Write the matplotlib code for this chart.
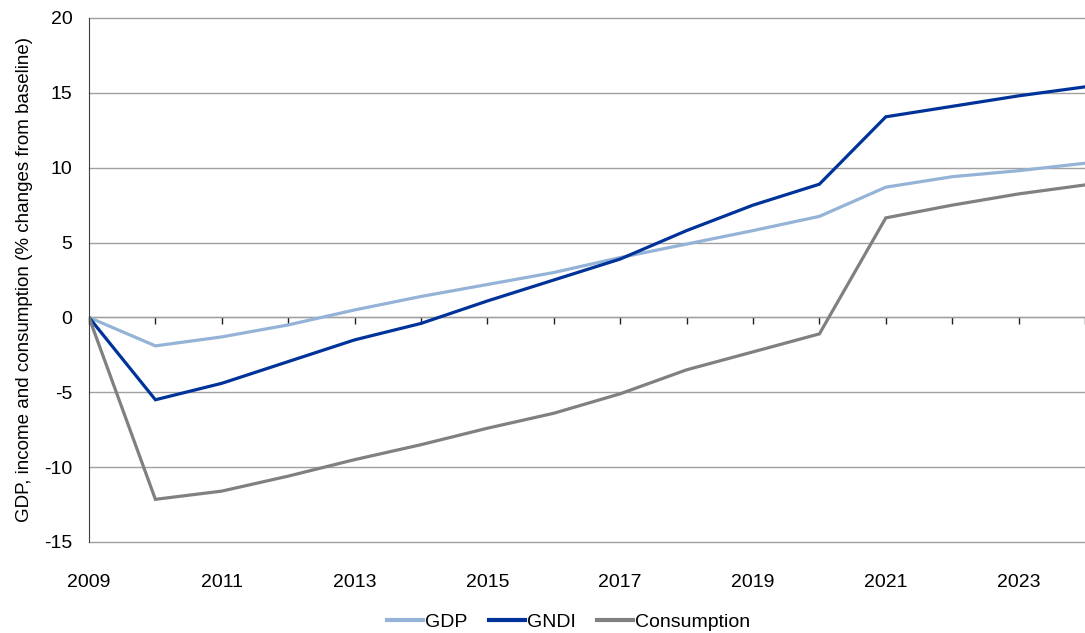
import matplotlib
matplotlib.use("Agg")
import matplotlib.pyplot as plt
import numpy as np

plt.rcParams['font.family'] = ['Liberation Sans', 'DejaVu Sans']
plt.rcParams['axes.unicode_minus'] = False

# data
years = list(range(2009, 2025))
gdp = [0, -1.9, -1.3, -0.5, 0.5, 1.4, 2.2, 3.0, 4.0, 4.9, 5.8, 6.75, 8.7, 9.4, 9.8, 10.3]
gndi = [0, -5.5, -4.4, -2.95, -1.5, -0.4, 1.1, 2.5, 3.9, 5.8, 7.5, 8.9, 13.4, 14.1, 14.8, 15.4]
consumption = [0, -12.15, -11.6, -10.6, -9.5, -8.5, -7.4, -6.4, -5.1, -3.5, -2.3, -1.1, 6.65, 7.5, 8.25, 8.85]
tick_years = list(range(2009, 2025, 2))

fig = plt.figure(figsize=(10.85, 6.33), dpi=100)
ax = fig.add_axes([89/1085, 1 - 542/633, 1 - 89/1085, (542 - 18)/633])

ymin, ymax = -15, 20
ax.set_xlim(years[0], years[-1])
ax.set_ylim(ymin, ymax)

ax.plot(years, gdp, color='#95B3D7', lw=2.3, label='GDP', solid_joinstyle='miter')
ax.plot(years, gndi, color='#003399', lw=2.3, label='GNDI', solid_joinstyle='miter')
ax.plot(years, consumption, color='#808080', lw=2.3, label='Consumption', solid_joinstyle='miter')

# horizontal gridlines
ax.set_yticks(np.arange(ymin, ymax + 1, 5))
ax.yaxis.grid(True, color='#A0A0A0', lw=1)
for gl in ax.get_ygridlines():
    gl.set_clip_on(False)
ax.set_axisbelow(True)
ax.tick_params(axis='y', length=0, pad=12, labelsize=14)

for s in ['top', 'right', 'bottom']:
    ax.spines[s].set_visible(False)
ax.spines['left'].set_color('#404040')

# year labels under the plot
ax.set_xticks(tick_years)
ax.set_xticklabels([str(y) for y in tick_years])
ax.tick_params(axis='x', length=0, pad=23, labelsize=14)

# category axis drawn through zero
zero_frac = (0 - ymin) / (ymax - ymin)
sec = ax.secondary_xaxis(zero_frac)
sec.set_xticks(years)
sec.tick_params(axis='x', direction='out', length=5, width=1, color='#202020', labelbottom=False, labeltop=False)
sec.spines['bottom'].set_color('#202020')
sec.spines['top'].set_visible(False)

ax.set_ylabel('GDP, income and consumption (% changes from baseline)', fontsize=13.5, labelpad=8)

leg = fig.legend(loc='lower center', bbox_to_anchor=(0.524, -0.024), ncol=3, frameon=False,
                 fontsize=14, handlelength=1.85, handletextpad=0.1, columnspacing=1.1)
for ln in leg.get_lines():
    ln.set_linewidth(3)

fig.savefig('out.png', dpi=100)
